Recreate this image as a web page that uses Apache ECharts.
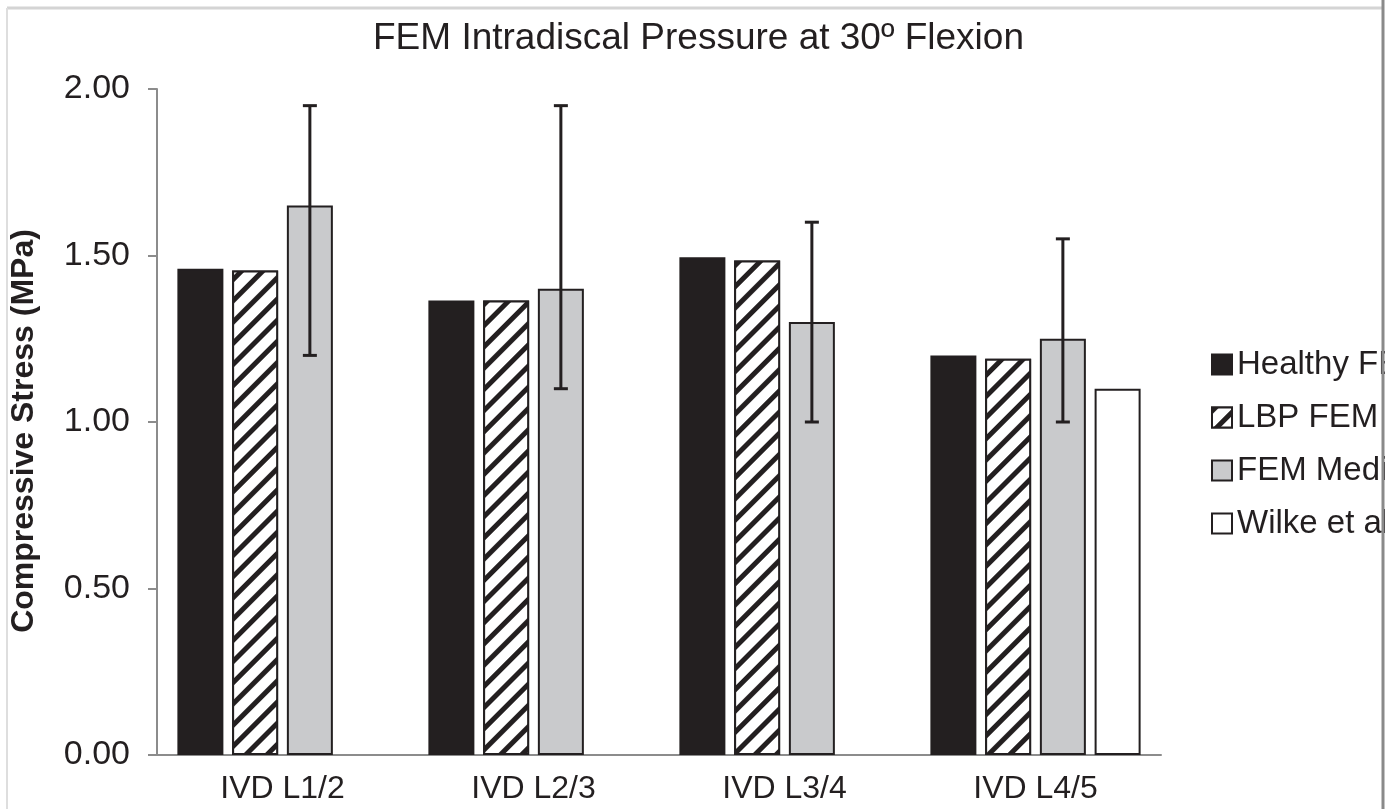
<!DOCTYPE html>
<html>
<head>
<meta charset="utf-8">
<script src="https://cdn.jsdelivr.net/npm/echarts@6/dist/echarts.min.js"></script>
<style>
  html, body { margin: 0; padding: 0; background: #fff; }
  #chart { width: 1397px; height: 809px; }
</style>
</head>
<body>
<div id="chart"></div>
<script>
// data
const categories = ['IVD L1/2', 'IVD L2/3', 'IVD L3/4', 'IVD L4/5']
const seriesNames = ['Healthy FEM', 'LBP FEM', 'FEM Median', 'Wilke et al.']
const healthyFem = [1.46, 1.365, 1.495, 1.20]
const lbpFem = [1.455, 1.365, 1.485, 1.19]
const femMedian = [1.65, 1.40, 1.30, 1.25]
const wilke = ['-', '-', '-', 1.10]
const errLow = [1.20, 1.10, 1.00, 1.00]
const errHigh = [1.95, 1.95, 1.60, 1.55]
const yTicks = [0, 0.5, 1, 1.5, 2]

const FONT = '"Liberation Sans", Arial, sans-serif'
const INK = '#231f20'
const BAR_W = 46
const BAR_GAP = 0.19

const chart = echarts.init(document.getElementById('chart'))

// x offset of the 3rd bar (median) from the category centre
function medianOffset() {
  const gap = BAR_W * BAR_GAP
  const total = 4 * BAR_W + 3 * gap
  return -total / 2 + 2 * (BAR_W + gap) + BAR_W / 2
}

const errData = categories.map((c, i) => [i, errLow[i], errHigh[i]])

const barBase = {
  type: 'bar',
  barWidth: BAR_W,
  barGap: (BAR_GAP * 100) + '%'
}

chart.setOption({
  backgroundColor: '#fff',
  animation: false,
  title: {
    text: 'FEM Intradiscal Pressure at 30º Flexion',
    left: 'center',
    top: 15,
    textStyle: {
      color: INK,
      fontFamily: FONT,
      fontWeight: 'normal',
      fontSize: 37
    }
  },
  grid: {
    left: 157,
    right: 236,
    top: 89,
    bottom: 54,
    outerBoundsMode: 'none'
  },
  legend: {
    orient: 'vertical',
    left: 1206,
    top: 343,
    itemWidth: 20,
    itemHeight: 20,
    itemGap: 20,
    icon: 'rect',
    textStyle: {
      color: INK,
      fontFamily: FONT,
      fontSize: 33
    },
    data: seriesNames
  },
  xAxis: {
    type: 'category',
    data: categories,
    axisLine: { lineStyle: { color: '#8c8c8c', width: 2 } },
    axisTick: { show: false },
    axisLabel: {
      color: INK,
      fontFamily: FONT,
      fontSize: 32,
      margin: 18
    }
  },
  yAxis: {
    type: 'value',
    name: 'Compressive Stress (MPa)',
    nameLocation: 'middle',
    nameGap: 117,
    nameTextStyle: {
      color: INK,
      fontFamily: FONT,
      fontWeight: 'bold',
      fontSize: 32,
      padding: [0, 18, 0, 0]
    },
    min: yTicks[0],
    max: yTicks[yTicks.length - 1],
    interval: yTicks[1] - yTicks[0],
    axisLine: { show: true, lineStyle: { color: '#8c8c8c', width: 2 } },
    axisTick: { show: true, length: 9, lineStyle: { color: '#8c8c8c', width: 2 } },
    splitLine: { show: false },
    axisLabel: {
      color: INK,
      fontFamily: FONT,
      fontSize: 34,
      margin: 27,
      formatter: v => v.toFixed(2)
    }
  },
  series: [
    Object.assign({}, barBase, {
      name: seriesNames[0],
      itemStyle: { color: INK, borderColor: INK, borderWidth: 2 },
      data: healthyFem
    }),
    Object.assign({}, barBase, {
      name: seriesNames[1],
      itemStyle: {
        color: '#fff',
        borderColor: INK,
        borderWidth: 2,
        decal: {
          symbol: 'rect',
          symbolSize: 1,
          color: INK,
          backgroundColor: '#fff',
          dashArrayX: [1, 0],
          dashArrayY: [5, 10],
          rotation: -Math.PI / 4
        }
      },
      data: lbpFem
    }),
    Object.assign({}, barBase, {
      name: seriesNames[2],
      itemStyle: { color: '#c9cacc', borderColor: INK, borderWidth: 2 },
      data: femMedian
    }),
    Object.assign({}, barBase, {
      name: seriesNames[3],
      itemStyle: { color: '#fff', borderColor: INK, borderWidth: 2 },
      data: wilke
    }),
    {
      type: 'custom',
      name: 'error',
      z: 5,
      data: errData,
      renderItem(params, api) {
        const lo = api.coord([api.value(0), api.value(1)])
        const hi = api.coord([api.value(0), api.value(2)])
        const x = lo[0] + medianOffset()
        const cap = 7
        const style = { stroke: INK, lineWidth: 3 }
        return {
          type: 'group',
          children: [
            { type: 'line', shape: { x1: x, y1: lo[1], x2: x, y2: hi[1] }, style },
            { type: 'line', shape: { x1: x - cap, y1: lo[1], x2: x + cap, y2: lo[1] }, style },
            { type: 'line', shape: { x1: x - cap, y1: hi[1], x2: x + cap, y2: hi[1] }, style }
          ]
        }
      }
    }
  ],
  graphic: [
    // page frame, cut off on the right like the reference
    { type: 'rect', z: 100, shape: { x: 1385, y: 0, width: 12, height: 809 }, style: { fill: '#fff' } },
    { type: 'line', z: 101, shape: { x1: 7, y1: 8, x2: 1382, y2: 8 }, style: { stroke: '#d4d4d4', lineWidth: 3 } },
    { type: 'line', z: 101, shape: { x1: 7, y1: 8, x2: 7, y2: 809 }, style: { stroke: '#dedede', lineWidth: 2 } },
    { type: 'line', z: 101, shape: { x1: 1383, y1: 0, x2: 1383, y2: 809 }, style: { stroke: '#8a8a8a', lineWidth: 3 } }
  ]
})
</script>
</body>
</html>
